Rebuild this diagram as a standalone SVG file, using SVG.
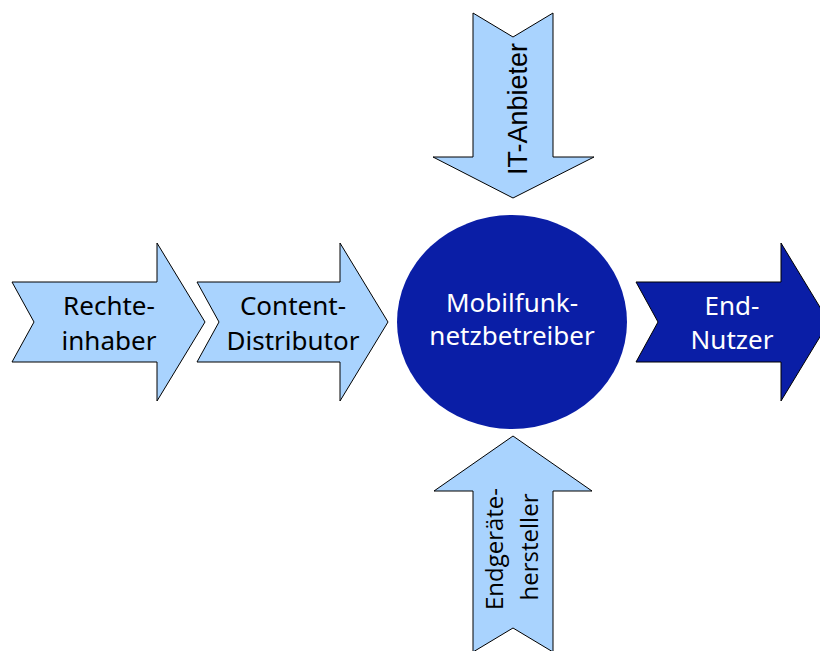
<svg xmlns="http://www.w3.org/2000/svg" width="820" height="651" viewBox="0 0 820 651">
<style>
.light{fill:#A9D3FE;stroke:#000;stroke-width:1}
.dark{fill:#0A1EA6;stroke:#000;stroke-width:1}
.lbl{font-family:"Noto Sans","Open Sans",sans-serif;font-size:26px;text-anchor:middle}
.blk{fill:#000}
.wht{fill:#fff}
.arial{font-family:"Liberation Sans",Arial,sans-serif;font-size:27px;text-anchor:middle;fill:#000}
.cal{font-family:"Open Sans","Noto Sans",sans-serif;font-size:24px;text-anchor:middle;fill:#000}
</style>
<rect width="820" height="651" fill="#fff"/>
<g id="connectors"></g>
<g id="rechteinhaber">
<polygon class="light" points="12,282 157,282 157,243 205,322 157,401 157,362 12,362 34,322"/>
<text class="lbl blk" x="109" y="315">Rechte-</text>
<text class="lbl blk" x="109" y="350">inhaber</text>
</g>
<g id="content-distributor">
<polygon class="light" points="197,282 340,282 340,243 388,322 340,401 340,362 197,362 219,322"/>
<text class="lbl blk" x="293" y="315">Content-</text>
<text class="lbl blk" x="293" y="350">Distributor</text>
</g>
<g id="mobilfunk">
<ellipse cx="512" cy="322" rx="115" ry="107" fill="#0A1EA6"/>
<text class="lbl wht" x="512" y="312">Mobilfunk-</text>
<text class="lbl wht" x="512" y="345">netzbetreiber</text>
</g>
<g id="end-nutzer">
<polygon class="dark" points="636,282 781,282 781,243 829,322 781,401 781,362 636,362 658,322"/>
<text class="lbl wht" x="732" y="315">End-</text>
<text class="lbl wht" x="732" y="349">Nutzer</text>
</g>
<g id="it-anbieter">
<polygon class="light" points="473,13 513,37 553,13 553,157 594,157 513,198 433,157 473,157"/>
<text class="arial" transform="translate(527,109) rotate(-90)">IT-Anbieter</text>
</g>
<g id="endgeraetehersteller">
<polygon class="light" points="513,436 592,491 553,491 553,652 513,628 473,652 473,491 434,491"/>
<text class="cal" transform="translate(503,549) rotate(-90)">Endgeräte-</text>
<text class="cal" transform="translate(538,547) rotate(-90)">hersteller</text>
</g>
</svg>
